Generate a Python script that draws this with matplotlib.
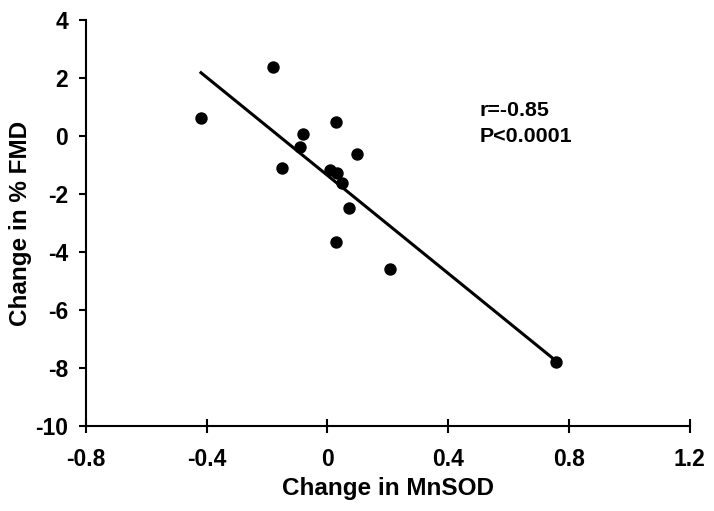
import matplotlib
matplotlib.use('Agg')
import matplotlib.pyplot as plt

# Scatter points: change in MnSOD vs change in % FMD
mnsod = [-0.419, -0.180, 0.029, -0.080, -0.091, 0.098, -0.151,
         0.010, 0.032, 0.049, 0.070, 0.029, 0.207, 0.756]
fmd = [0.63, 2.37, 0.47, 0.06, -0.37, -0.61, -1.11,
       -1.17, -1.29, -1.63, -2.49, -3.64, -4.59, -7.79]

# Regression line end points
fit_x = [-0.419, 0.753]
fit_y = [2.18, -7.72]

x_ticks = [-0.8, -0.4, 0, 0.4, 0.8, 1.2]
x_labels = ['-0.8', '-0.4', '0', '0.4', '0.8', '1.2']
y_ticks = [-10, -8, -6, -4, -2, 0, 2, 4]
y_labels = ['-10', '-8', '-6', '-4', '-2', '0', '2', '4']

plt.rcParams['font.family'] = ['Liberation Sans', 'DejaVu Sans']
plt.rcParams['font.weight'] = 'bold'

fig = plt.figure(figsize=(7.14, 5.11), dpi=100)
ax = fig.add_axes([0.1204, 0.1663, 0.8456, 0.7947])

ax.plot(fit_x, fit_y, color='black', linewidth=2.2, zorder=2)
ax.scatter(mnsod, fmd, s=80, color='black', zorder=3, linewidths=0)

ax.set_xlim(-0.8, 1.2)
ax.set_ylim(-10, 4)
ax.set_xticks(x_ticks)
ax.set_xticklabels(x_labels)
ax.set_yticks(y_ticks)
ax.set_yticklabels(y_labels)

for side in ['top', 'right']:
    ax.spines[side].set_visible(False)
for side in ['left', 'bottom']:
    ax.spines[side].set_linewidth(1.5)

ax.tick_params(axis='x', direction='inout', length=10, width=1.5,
               labelsize=16.5, pad=11)
ax.tick_params(axis='y', direction='out', length=5, width=1.5,
               labelsize=16.5, pad=8)
for lbl in ax.get_xticklabels() + ax.get_yticklabels():
    lbl.set_fontweight('bold')

ax.set_xlabel('Change in MnSOD', fontsize=17.5, fontweight='bold', labelpad=4)
ax.set_ylabel('Change in % FMD', fontsize=17.5, fontweight='bold', labelpad=2)

ax.text(0.505, 0.70, 'r=-0.85', fontsize=15.4, fontweight='bold', va='baseline', ha='left')
ax.text(0.505, -0.20, 'P<0.0001', fontsize=15.4, fontweight='bold', va='baseline', ha='left')

fig.savefig('out.png', dpi=100)
